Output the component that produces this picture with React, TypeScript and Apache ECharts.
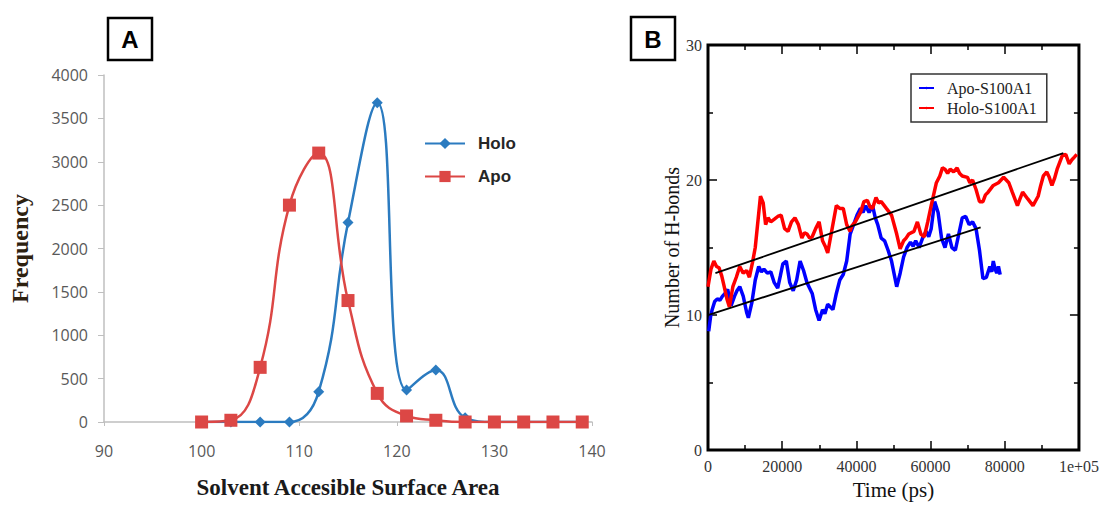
import React, { useEffect, useRef } from "react";
import * as echarts from "echarts";

// ---------- Panel A data ----------
const sasaCategories = [100, 103, 106, 109, 112, 115, 118, 121, 124, 127, 130, 133, 136, 139];
const holoFrequency = [0, 0, 0, 0, 350, 2300, 3680, 370, 600, 50, 0, 0, 0, 0];
const apoFrequency = [0, 20, 630, 2500, 3100, 1400, 330, 70, 20, 0, 0, 0, 0, 0];
const sasaTicks = [90, 100, 110, 120, 130, 140];

// ---------- Panel B data ----------
const apoTime = [
  190, 700, 1120, 1800, 2510, 3200, 3910, 4600, 5300, 6230, 7160, 7800, 8560, 9490, 10420, 10880, 11810,
  12740, 13670, 14400, 15070, 16000, 16930, 17860, 18790, 19500, 20180, 21110, 22040, 22970, 23900,
  24830, 25760, 26690, 28090, 29020, 29950, 30880, 31500, 32270, 33000, 33670, 34600, 35530, 36460,
  37390, 38320, 39250, 40180, 41110, 41800, 42500, 43430, 44360, 45100, 45760, 46690, 47620, 48550,
  49480, 50870, 51800, 52730, 53660, 54590, 55300, 55990, 56920, 57850, 58780, 59500, 60170, 61100,
  62030, 62960, 63890, 64820, 65750, 66680, 67610, 68540, 69470, 70400, 71330, 72260, 73190, 74120,
  75050, 75980, 76500, 76910, 77400, 77840, 78300, 78770,
];
const apoHbonds = [
  8.8, 9.9, 10.4, 11.0, 11.2, 11.1, 11.4, 11.6, 11.9, 10.7, 11.4, 11.8, 12.1, 11.4, 10.2, 9.8, 10.9,
  12.6, 13.6, 13.2, 13.4, 13.1, 13.2, 12.4, 12.0, 12.9, 13.8, 14.0, 12.4, 11.8, 12.6,
  14.0, 13.3, 12.4, 11.6, 10.4, 9.6, 10.4, 10.1, 10.8, 10.6, 10.4, 11.6, 12.6, 13.0,
  14.0, 16.0, 16.7, 17.4, 17.9, 17.6, 18.1, 17.6, 18.1, 17.2, 16.7, 15.7, 15.5, 14.8,
  14.0, 12.1, 13.1, 14.3, 15.0, 15.4, 15.1, 15.5, 15.0, 15.7, 16.2, 15.8, 16.4, 18.4,
  17.6, 15.7, 15.0, 16.0, 15.0, 14.8, 16.0, 17.2, 17.3, 16.7, 16.9, 16.4, 14.8, 12.7,
  12.8, 13.6, 13.2, 14.0, 13.4, 13.1, 13.6, 13.0,
];
const holoTime = [
  0, 800, 1580, 2300, 2980, 3700, 4370, 5100, 5770, 6700, 7630, 8560, 9490, 10420, 11160, 12000, 12740,
  14140, 14880, 15530, 16200, 16930, 17900, 18790, 19720, 20650, 21580, 22510, 23440, 24370, 25300,
  26000, 26690, 27400, 28090, 29020, 29950, 30880, 31600, 32270, 33200, 34600, 35530, 36460, 37390,
  38320, 38780, 39710, 41110, 42040, 42970, 43700, 44360, 45290, 46000, 46690, 48080, 49480, 50870,
  51800, 52730, 53400, 54130, 55520, 56450, 57380, 58310, 59240, 60170, 61570, 62500, 63200, 63890,
  64600, 65290, 66220, 67150, 67800, 68540, 69940, 70600, 71330, 72260, 73190, 74120, 74800, 75520,
  76910, 78310, 79000, 79700, 81100, 82030, 83420, 84100, 84820, 86210, 87610, 89000, 89700, 90400,
  91330, 92000, 92720, 93400, 94120, 95510, 96440, 97370, 98100, 98770, 99420,
];
const holoHbonds = [
  12.1, 13.4, 14.0, 13.6, 13.5, 12.9, 12.1, 11.2, 10.6, 12.1, 12.8, 13.6, 13.1, 13.3, 12.8, 13.9, 15.0,
  18.8, 18.3, 16.7, 17.2, 16.9, 17.1, 17.3, 17.4, 16.4, 16.2, 16.9, 17.2, 16.7, 15.7,
  16.1, 16.0, 15.7, 15.8, 16.4, 16.9, 15.5, 15.1, 14.6, 16.0, 18.1, 17.9, 17.9, 16.7,
  16.2, 16.6, 16.9, 17.6, 18.4, 18.5, 18.0, 17.9, 18.7, 18.3, 18.4, 17.9, 17.4, 16.0,
  14.9, 15.5, 15.7, 16.0, 16.2, 16.9, 16.0, 15.8, 16.9, 18.1, 19.8, 20.3, 20.9, 20.8,
  20.5, 20.8, 20.6, 20.9, 20.5, 20.3, 20.2, 19.8, 20.0, 19.3, 18.4, 18.4, 18.9, 19.1,
  19.6, 19.8, 20.0, 20.2, 19.8, 19.1, 18.1, 18.6, 19.1, 18.6, 18.1, 18.8, 19.6, 20.3,
  20.6, 20.2, 19.6, 20.1, 20.8, 21.8, 21.9, 21.2, 21.5, 21.7, 21.9,
];
const apoTrendTime = [0, 73500];
const apoTrendHbonds = [10.0, 16.5];
const holoTrendTime = [2000, 95800];
const holoTrendHbonds = [13.1, 22.0];
const timeTickLabels = ["0", "20000", "40000", "60000", "80000", "1e+05"];

const zip = (xs: number[], ys: number[]) => xs.map((x, i) => [x, ys[i]]);

export default function App() {
  const ref = useRef<HTMLDivElement>(null);
  useEffect(() => {
    document.body.style.margin = "0";
    const chart = echarts.init(ref.current!, undefined, { renderer: "svg" });
    const serif = "'Liberation Serif', 'DejaVu Serif', serif";
    const sans = "'Open Sans', 'Liberation Sans', sans-serif";
    const gray = "#bfbfbf";
    const holoBlue = "#2b7bc0";
    const apoRed = "#dc4745";

    const bAxisTick = { show: true, inside: true, length: 9, lineStyle: { color: "#000", width: 1.5 } };
    const bMinor = { show: true, splitNumber: 2, length: 5, lineStyle: { color: "#000", width: 1.5 } };

    chart.setOption({
      animation: false,
      grid: [
        { left: 104, top: 75, width: 488, height: 347, show: false },
        { left: 708, top: 45, width: 371, height: 417, show: true, borderColor: "#000", borderWidth: 3, backgroundColor: "transparent" },
      ],
      legend: [
        {
          data: ["Holo", "Apo"],
          orient: "vertical",
          left: 419,
          top: 130,
          itemWidth: 40,
          itemHeight: 14,
          itemGap: 16,
          textStyle: { fontFamily: "'Liberation Sans', sans-serif", fontWeight: "bold", fontSize: 17, color: "#262626", padding: [0, 0, 0, 8] },
        },
        {
          data: ["Apo-S100A1", "Holo-S100A1"],
          orient: "vertical",
          left: 911,
          top: 74,
          itemWidth: 15,
          itemHeight: 3,
          itemGap: 4,
          padding: [6, 10, 6, 7],
          borderColor: "#333",
          borderWidth: 1.5,
          textStyle: { fontFamily: serif, fontSize: 16, color: "#222", padding: [0, 0, 0, 8] },
        },
      ],
      xAxis: [
        {
          gridIndex: 0,
          type: "value",
          min: sasaTicks[0],
          max: sasaTicks[sasaTicks.length - 1],
          interval: 10,
          name: "Solvent Accesible Surface Area",
          nameLocation: "middle",
          nameGap: 54,
          nameTextStyle: { fontFamily: serif, fontWeight: "bold", fontSize: 23, color: "#1a1a1a" },
          axisLine: { onZero: false, lineStyle: { color: gray, width: 1.5 } },
          axisTick: { show: true, length: 4, lineStyle: { color: gray } },
          axisLabel: { color: "#595959", fontFamily: sans, fontSize: 16, margin: 21, formatter: (v: number) => String(v) },
          splitLine: { show: false },
        },
        {
          gridIndex: 1,
          type: "value",
          min: 0,
          max: 100000,
          interval: 20000,
          name: "Time (ps)",
          nameLocation: "middle",
          nameGap: 25,
          nameTextStyle: { fontFamily: serif, fontSize: 21, color: "#111" },
          axisLine: { show: false, onZero: false },
          axisTick: bAxisTick,
          minorTick: bMinor,
          axisLabel: {
            color: "#333",
            fontFamily: serif,
            fontSize: 16,
            margin: 8,
            formatter: (_v: number, i: number) => timeTickLabels[i],
          },
          splitLine: { show: false },
        },
        {
          gridIndex: 1,
          type: "value",
          position: "top",
          min: 0,
          max: 100000,
          interval: 20000,
          axisLine: { show: false, onZero: false },
          axisTick: bAxisTick,
          minorTick: bMinor,
          axisLabel: { show: false },
          splitLine: { show: false },
        },
      ],
      yAxis: [
        {
          gridIndex: 0,
          type: "value",
          min: 0,
          max: 4000,
          interval: 500,
          name: "Frequency",
          nameLocation: "middle",
          nameGap: 72,
          nameTextStyle: { fontFamily: serif, fontWeight: "bold", fontSize: 24, color: "#2d2110" },
          axisLine: { show: true, onZero: false, lineStyle: { color: gray, width: 1.5 } },
          axisTick: { show: true, length: 6, lineStyle: { color: gray } },
          axisLabel: { color: "#595959", fontFamily: sans, fontSize: 16, margin: 16, formatter: (v: number) => String(v) },
          splitLine: { show: false },
        },
        {
          gridIndex: 1,
          type: "value",
          min: 0,
          max: 30,
          interval: 10,
          name: "Number of H-bonds",
          nameLocation: "middle",
          nameGap: 26,
          nameTextStyle: { fontFamily: serif, fontSize: 20, color: "#111" },
          axisLine: { show: false, onZero: false },
          axisTick: bAxisTick,
          minorTick: bMinor,
          axisLabel: { color: "#333", fontFamily: serif, fontSize: 16, margin: 6 },
          splitLine: { show: false },
        },
        {
          gridIndex: 1,
          type: "value",
          position: "right",
          min: 0,
          max: 30,
          interval: 10,
          axisLine: { show: false, onZero: false },
          axisTick: bAxisTick,
          minorTick: bMinor,
          axisLabel: { show: false },
          splitLine: { show: false },
        },
      ],
      series: [
        {
          name: "Holo",
          type: "line",
          xAxisIndex: 0,
          yAxisIndex: 0,
          smooth: 0.45,
          data: zip(sasaCategories, holoFrequency),
          symbol: "diamond",
          symbolSize: 11,
          lineStyle: { color: holoBlue, width: 2.5 },
          itemStyle: { color: holoBlue },
        },
        {
          name: "Apo",
          type: "line",
          xAxisIndex: 0,
          yAxisIndex: 0,
          smooth: 0.45,
          data: zip(sasaCategories, apoFrequency),
          symbol: "rect",
          symbolSize: 13,
          lineStyle: { color: apoRed, width: 2.5 },
          itemStyle: { color: apoRed },
        },
        {
          name: "Apo-S100A1",
          type: "line",
          xAxisIndex: 1,
          yAxisIndex: 1,
          data: zip(apoTime, apoHbonds),
          symbol: "none",
          lineStyle: { color: "#0000ff", width: 3.5 },
          itemStyle: { color: "#0000ff" },
        },
        {
          name: "Holo-S100A1",
          type: "line",
          xAxisIndex: 1,
          yAxisIndex: 1,
          data: zip(holoTime, holoHbonds),
          symbol: "none",
          lineStyle: { color: "#ff0000", width: 3.5 },
          itemStyle: { color: "#ff0000" },
        },
        {
          name: "Apo trend",
          type: "line",
          xAxisIndex: 1,
          yAxisIndex: 1,
          data: zip(apoTrendTime, apoTrendHbonds),
          symbol: "none",
          lineStyle: { color: "#000", width: 1.8 },
        },
        {
          name: "Holo trend",
          type: "line",
          xAxisIndex: 1,
          yAxisIndex: 1,
          data: zip(holoTrendTime, holoTrendHbonds),
          symbol: "none",
          lineStyle: { color: "#000", width: 1.8 },
        },
      ],
      graphic: [
        { type: "rect", shape: { x: 108, y: 18, width: 44, height: 42 }, style: { fill: "#fff", stroke: "#000", lineWidth: 2.5 } },
        { type: "text", x: 130, y: 39, style: { text: "A", font: "bold 24px 'Liberation Sans', sans-serif", fill: "#000", align: "center", verticalAlign: "middle" } },
        { type: "rect", shape: { x: 631, y: 17, width: 44, height: 43 }, style: { fill: "#fff", stroke: "#000", lineWidth: 2.5 } },
        { type: "text", x: 653, y: 39, style: { text: "B", font: "bold 24px 'Liberation Sans', sans-serif", fill: "#000", align: "center", verticalAlign: "middle" } },
      ],
    });
    return () => chart.dispose();
  }, []);
  return <div ref={ref} style={{ width: 1102, height: 505 }} />;
}
